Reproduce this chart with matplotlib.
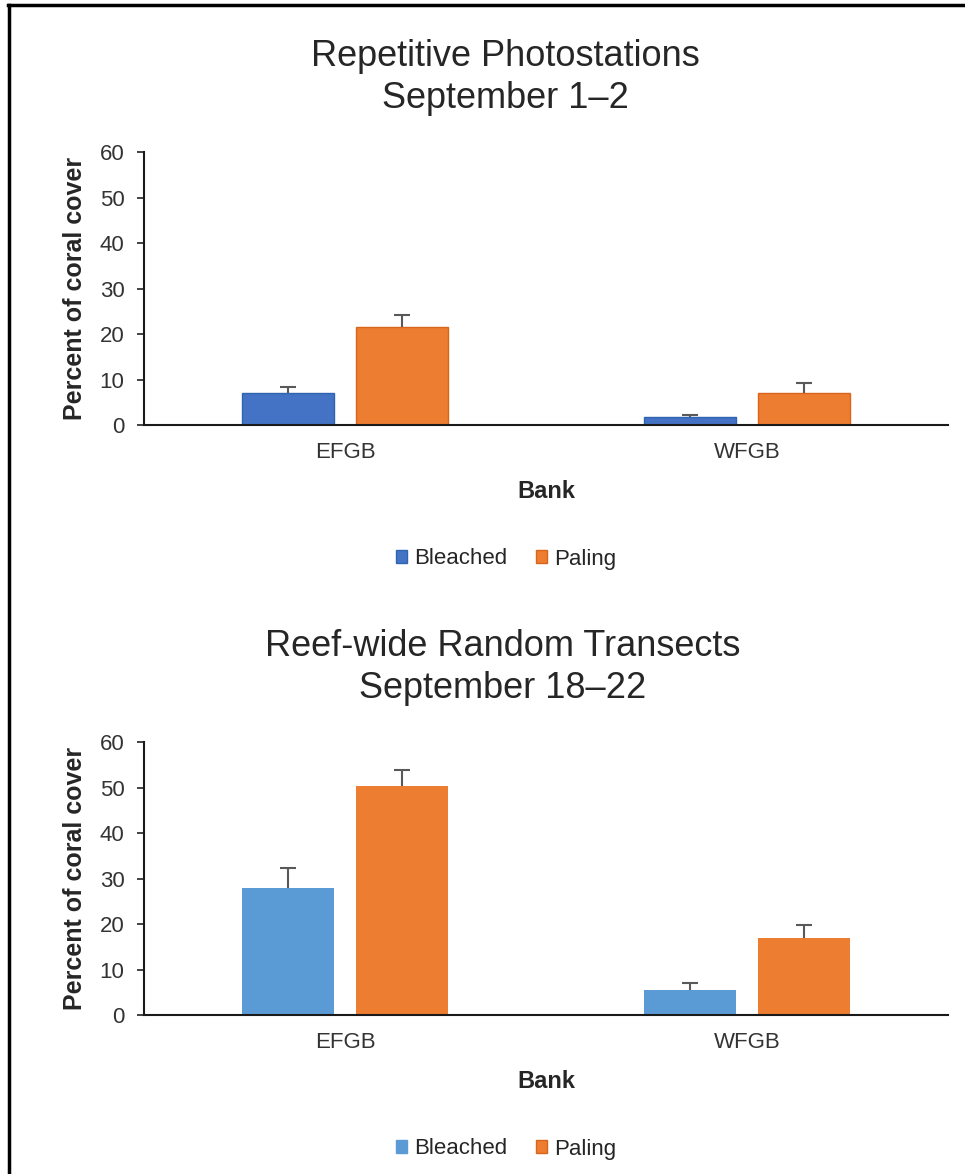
import matplotlib
matplotlib.use("Agg")
import matplotlib.pyplot as plt
from matplotlib.lines import Line2D
from matplotlib.patches import Patch
import numpy as np

plt.rcParams['font.family'] = ['Liberation Sans', 'DejaVu Sans']

banks = ["EFGB", "WFGB"]
series = ["Bleached", "Paling"]

photo_bleached = [7.1, 1.8]
photo_bleached_err = [1.2, 0.3]
photo_paling = [21.6, 7.0]
photo_paling_err = [2.7, 2.2]

transect_bleached = [27.9, 5.4]
transect_bleached_err = [4.4, 1.6]
transect_paling = [50.4, 16.9]
transect_paling_err = [3.4, 3.0]

y_ticks = [0, 10, 20, 30, 40, 50, 60]

W, H = 965, 1174
fig = plt.figure(figsize=(W / 100, H / 100), dpi=100)

text_col = "#262626"
tick_col = "#333333"
err_col = "#595959"
orange = "#ED7D31"
AX_H = 272.7


def upper_errorbar(ax, xs, ys, errs):
    _, caps, _ = ax.errorbar(xs, ys, yerr=[np.zeros(len(errs)), errs], fmt="none",
                             ecolor=err_col, elinewidth=1.5, capsize=6, capthick=1.5,
                             zorder=3)
    # keep only the upper cap
    caps[0].set_visible(False)


def panel(bottom_px, blues, blue_err, oranges, orange_err, blue_col, edges):
    ax = fig.add_axes([144 / W, 1 - bottom_px / H, 804 / W, AX_H / H])
    x = np.arange(len(banks))
    bw = 0.228
    off = 0.142
    if edges:
        ax.bar(x - off, blues, bw, color=blue_col, edgecolor="#2E64B0", linewidth=1.0, zorder=2)
        ax.bar(x + off, oranges, bw, color=orange, edgecolor="#D8651A", linewidth=1.0, zorder=2)
    else:
        ax.bar(x - off, blues, bw, color=blue_col, linewidth=0, zorder=2)
        ax.bar(x + off, oranges, bw, color=orange, linewidth=0, zorder=2)
    upper_errorbar(ax, x - off, blues, blue_err)
    upper_errorbar(ax, x + off, oranges, orange_err)
    ax.set_xlim(-0.5, 1.5)
    ax.set_ylim(0, 60)
    ax.set_yticks(y_ticks)
    ax.set_xticks(x)
    ax.set_xticklabels(banks)
    ax.tick_params(axis="y", direction="out", length=5, width=1.2, color="#222222",
                   labelsize=16, labelcolor=tick_col, pad=9)
    ax.tick_params(axis="x", length=0, labelsize=16, labelcolor=tick_col, pad=12)
    for s in ["top", "right"]:
        ax.spines[s].set_visible(False)
    for s in ["left", "bottom"]:
        ax.spines[s].set_linewidth(1.5)
        ax.spines[s].set_color("#1a1a1a")
    ax.set_ylabel("Percent of coral cover", fontsize=18, fontweight="bold",
                  color=text_col, va="center")
    ax.yaxis.set_label_coords((75 - 144) / 804, 0.5)
    ax.set_xlabel("Bank", fontsize=17, fontweight="bold", color=text_col, va="center")
    ax.xaxis.set_label_coords(0.5, -(491 - 425) / AX_H)
    handles = [Patch(facecolor=blue_col, edgecolor="#2E64B0" if edges else blue_col),
               Patch(facecolor=orange, edgecolor="#D8651A")]
    leg = fig.legend(handles, series, loc="center",
                     bbox_to_anchor=(506 / W, 1 - (bottom_px + 134) / H),
                     ncol=2, frameon=False, fontsize=16, handlelength=0.5,
                     handleheight=0.5, handletextpad=0.3, columnspacing=1.3)
    for t in leg.get_texts():
        t.set_color(text_col)
    return ax


panel(425, photo_bleached, photo_bleached_err, photo_paling, photo_paling_err,
      "#4472C4", True)
panel(1015, transect_bleached, transect_bleached_err, transect_paling,
      transect_paling_err, "#5B9BD5", False)

fig.text(505 / W, 1 - 57 / H, "Repetitive Photostations", ha="center", va="center",
         fontsize=26, color=text_col)
fig.text(505 / W, 1 - 99 / H, "September 1\u20132", ha="center", va="center",
         fontsize=26, color=text_col)
fig.text(503 / W, 1 - 647 / H, "Reef-wide Random Transects", ha="center", va="center",
         fontsize=26, color=text_col)
fig.text(503 / W, 1 - 689 / H, "September 18\u201322", ha="center", va="center",
         fontsize=26, color=text_col)

# outer frame (top and left edges)
fig.add_artist(Line2D([9 / W, 9 / W], [0, 1 - 5 / H], transform=fig.transFigure,
                      color="black", linewidth=2.5))
fig.add_artist(Line2D([8 / W, 1], [1 - 5 / H, 1 - 5 / H], transform=fig.transFigure,
                      color="black", linewidth=2.5))

fig.savefig("out.png", dpi=100)
